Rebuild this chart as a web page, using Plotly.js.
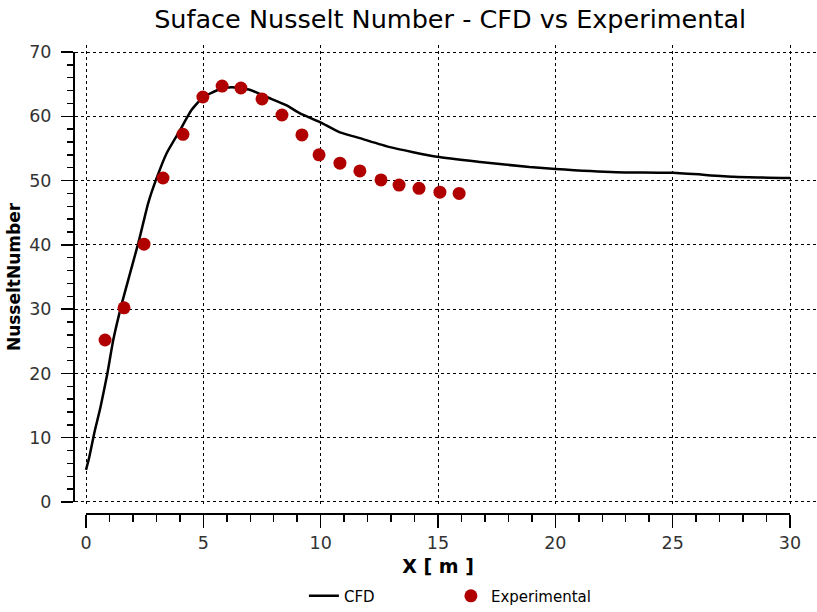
<!DOCTYPE html>
<html>
<head>
<meta charset="utf-8">
<script src="https://cdn.plot.ly/plotly-3.0.1.min.js"></script>
<style>html,body{margin:0;padding:0;background:#fff;}#chart{width:817px;height:612px;}</style>
</head>
<body>
<div id="chart"></div>
<script>
// CFD curve (X [m], Nusselt number)
const cfdX = [0, 0.14, 0.35, 0.62, 0.91, 1.16, 1.55, 2.23, 2.65, 2.98, 3.44, 4.0, 4.5, 5.0, 5.7, 6.2, 7.0, 7.7, 8.55, 9.1, 9.97, 10.82, 11.67, 12.95, 14.96, 16.8, 18.9, 20.0, 22.6, 25.0, 27.6, 30.0];
const cfdY = [5.0, 7.0, 10.7, 14.8, 20.0, 25.2, 31.2, 40.3, 46.5, 50.1, 54.3, 57.8, 61.0, 63.0, 64.2, 64.5, 64.1, 63.0, 61.7, 60.5, 59.1, 57.5, 56.6, 55.2, 53.7, 52.9, 52.1, 51.8, 51.3, 51.2, 50.6, 50.4];
// Experimental points
const expX = [0.81, 1.62, 2.47, 3.28, 4.13, 4.98, 5.8, 6.6, 7.5, 8.35, 9.2, 9.93, 10.82, 11.67, 12.57, 13.34, 14.19, 15.08, 15.9];
const expY = [25.2, 30.2, 40.1, 50.4, 57.2, 63.0, 64.7, 64.4, 62.7, 60.2, 57.1, 54.0, 52.7, 51.5, 50.1, 49.3, 48.8, 48.2, 48.0];

const FONT = 'DejaVu Sans';
const traces = [
  {x: cfdX, y: cfdY, name: 'CFD', mode: 'lines', type: 'scatter',
   line: {color: '#000000', width: 2.5, shape: 'spline', smoothing: 0.5}, xaxis: 'x', yaxis: 'y'},
  {x: expX, y: expY, name: 'Experimental', mode: 'markers', type: 'scatter',
   marker: {color: '#B00000', size: 13}, xaxis: 'x', yaxis: 'y'},
  {x: [], y: [], xaxis: 'x2', yaxis: 'y2', showlegend: false, hoverinfo: 'skip'},
  {x: [], y: [], xaxis: 'x3', yaxis: 'y3', showlegend: false, hoverinfo: 'skip'}
];

const H = 475; // plot area height (45..520)
const W = 742; // plot area width (75..817)
const grid = {showgrid: true, gridcolor: '#000', griddash: 'dot', gridwidth: 1, zeroline: false, showline: false, ticks: '', showticklabels: false};

const layout = {
  width: 817, height: 612,
  margin: {l: 75, r: 0, t: 45, b: 92},
  paper_bgcolor: '#fff', plot_bgcolor: 'rgba(0,0,0,0)',
  title: {text: 'Suface Nusselt Number - CFD vs Experimental', font: {family: FONT, size: 25.5, color: '#000'}, x: 0.551, xanchor: 'center', y: 0.969, yanchor: 'middle'},
  showlegend: true,
  legend: {orientation: 'h', x: 0.3085, xanchor: 'left', yref: 'container', y: 0.026, yanchor: 'middle',
    entrywidth: 102, entrywidthmode: 'pixels',
    font: {family: FONT, size: 15, color: '#000'}},
  xaxis: Object.assign({}, grid, {domain: [0, 1], range: [-0.47, 31.15], dtick: 5, tick0: 0, anchor: 'y'}),
  yaxis: Object.assign({}, grid, {domain: [(520 - 505) / H, 1], range: [-0.47, 71.09], dtick: 10, tick0: 0, anchor: 'x'}),
  xaxis2: {domain: [11 / W, 715 / W], range: [0, 30], anchor: 'y2', side: 'bottom',
    showline: true, linecolor: '#000', linewidth: 2, showgrid: false, zeroline: false,
    ticks: 'outside', ticklen: 13, tickwidth: 1.5, tickcolor: '#000', dtick: 5, tick0: 0,
    minor: {ticks: 'outside', ticklen: 7, dtick: 1, tickcolor: '#000', tickwidth: 1.5, showgrid: false},
    tickfont: {family: FONT, size: 17.5, color: '#333'},
    title: {text: '<b>X [ m ]</b>', font: {family: FONT, size: 19, color: '#000'}, standoff: 8}},
  yaxis2: {domain: [(520 - 513) / H, (520 - 508) / H], range: [0, 1], anchor: 'x2', visible: false},
  xaxis3: {domain: [0, 0.001], range: [0, 1], anchor: 'y3', visible: false},
  yaxis3: {domain: [(520 - 502) / H, (520 - 52) / H], range: [0, 70], anchor: 'x3', side: 'left',
    showline: true, linecolor: '#000', linewidth: 2, showgrid: false, zeroline: false,
    ticks: 'outside', ticklen: 12, tickwidth: 1.5, tickcolor: '#000', dtick: 10, tick0: 0,
    minor: {ticks: 'outside', ticklen: 6, dtick: 2, tickcolor: '#000', tickwidth: 1.5, showgrid: false},
    tickfont: {family: FONT, size: 17.5, color: '#333'}, ticklabelstandoff: 6,
    title: {text: '<b>NusseltNumber</b>', font: {family: FONT, size: 17, color: '#000'}, standoff: 4}}
};

Plotly.newPlot('chart', traces, layout, {displayModeBar: false, staticPlot: true});
</script>
</body>
</html>
